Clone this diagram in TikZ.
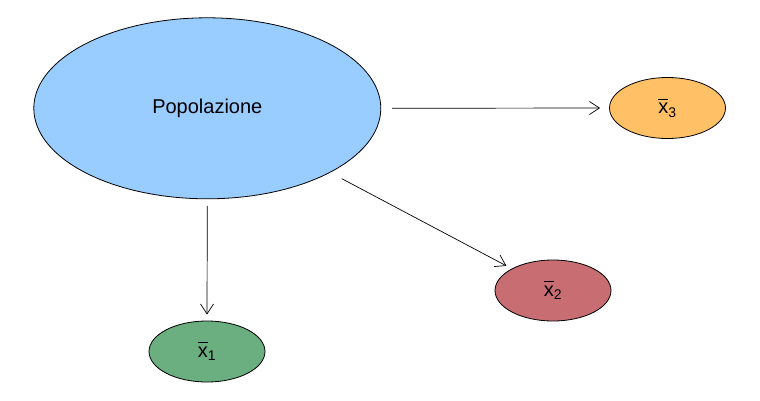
\documentclass[tikz,border=0pt]{standalone}
\usepackage{fontspec}
\setmainfont{Liberation Sans}
\usetikzlibrary{shapes.geometric,arrows.meta}
\definecolor{popblue}{HTML}{99CCFF}
\definecolor{campgreen}{HTML}{6BAF80}
\definecolor{campred}{HTML}{C86E73}
\definecolor{camporange}{HTML}{FFC066}
\tikzset{
	campione/.style = {ellipse, draw = black, line width = 0.8pt, inner sep = 0pt,
		minimum width = 116pt, minimum height = 61pt, font = \fontsize{20}{24}\selectfont},
	freccia/.style = {-{Straight Barb[length = 10pt, width = 13pt]}, line width = 0.7pt}
}
\newcommand{\media}[1]{\rlap{\rule[0.7em]{0.5em}{0.055em}}x\textsubscript{#1}}
\begin{document}
\begin{tikzpicture}[x = 1pt, y = 1pt]
					\useasboundingbox (0,0) rectangle (760,400);

					\node[ellipse, draw = black, line width = 0.8pt, fill = popblue, inner sep = 0pt,
						minimum width = 347pt, minimum height = 181pt, font = \fontsize{20}{24}\selectfont]
						(pop) at (207.3,291.7) {Popolazione};

					\node[campione, fill = campgreen] (x1) at (207,48.5) {\media{1}};
					\node[campione, fill = campred] (x2) at (553,109.5) {\media{2}};
					\node[campione, fill = camporange] (x3) at (667.5,292) {\media{3}};

					\draw[freccia, shorten <= 6.7pt, shorten >= 6pt] (pop.south) -- (x1.north);
					\draw[freccia, shorten <= 13pt, shorten >= 6pt] (pop.south east) -- (x2.north west);
					\draw[freccia, shorten <= 11pt, shorten >= 9pt] (pop.east) -- (x3.west);

				\end{tikzpicture}
\end{document}
